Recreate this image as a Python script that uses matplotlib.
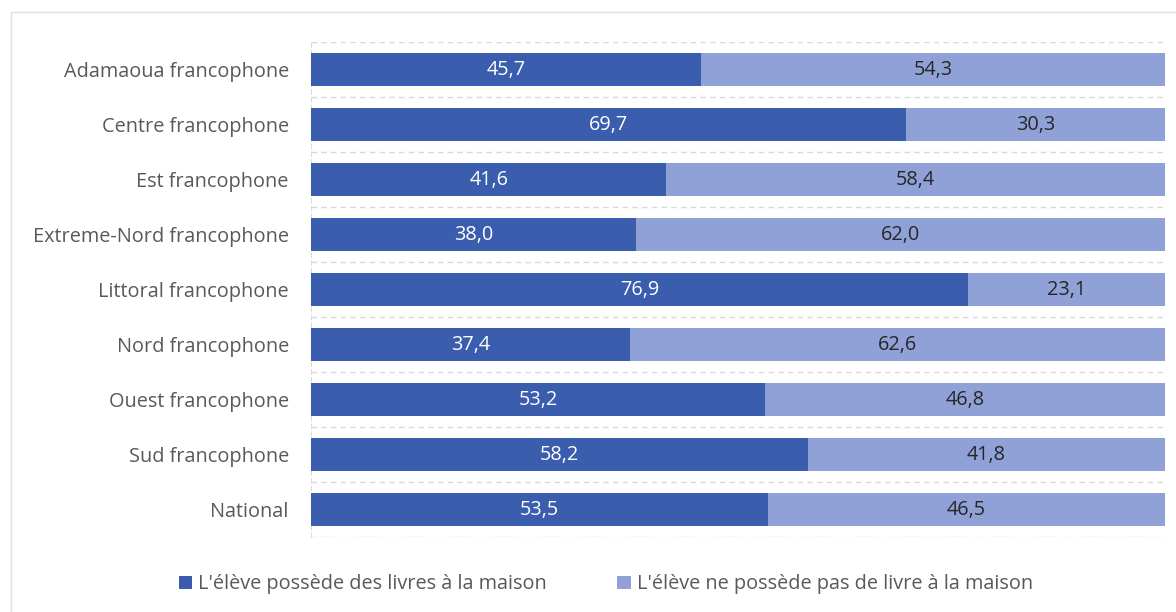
import matplotlib
matplotlib.use('Agg')
import matplotlib.pyplot as plt
import numpy as np
from matplotlib.patches import Rectangle

plt.rcParams['font.family'] = ['Open Sans', 'DejaVu Sans']

regions = ['Adamaoua francophone', 'Centre francophone', 'Est francophone',
           'Extreme-Nord francophone', 'Littoral francophone', 'Nord francophone',
           'Ouest francophone', 'Sud francophone', 'National']
avec_livres = [45.7, 69.7, 41.6, 38.0, 76.9, 37.4, 53.2, 58.2, 53.5]
sans_livres = [54.3, 30.3, 58.4, 62.0, 23.1, 62.6, 46.8, 41.8, 46.5]
legend_labels = ["L'élève possède des livres à la maison",
                 "L'élève ne possède pas de livre à la maison"]

dark = '#3A5DAE'
light = '#8FA1D7'
grey = '#595959'
fs = 14.3

fig = plt.figure(figsize=(11.76, 6.12), dpi=100)
ax = fig.add_axes([0.2645, 0.1225, 0.7261, 0.8085])

y = np.arange(len(regions))
b1 = ax.barh(y, avec_livres, height=0.6, color=dark, label=legend_labels[0], zorder=3)
b2 = ax.barh(y, sans_livres, left=avec_livres, height=0.6, color=light,
             label=legend_labels[1], zorder=3)

for i in range(len(regions)):
    ax.text(avec_livres[i] / 2, y[i], f'{avec_livres[i]:.1f}'.replace('.', ','),
            ha='center', va='center', color='white', fontsize=fs, zorder=4)
    ax.text(avec_livres[i] + sans_livres[i] / 2, y[i],
            f'{sans_livres[i]:.1f}'.replace('.', ','),
            ha='center', va='center', color='#262626', fontsize=fs, zorder=4)

ax.set_xlim(0, 100)
ax.set_ylim(len(regions) - 0.5, -0.5)
ax.set_yticks(y)
ax.set_yticklabels(regions, fontsize=fs, color=grey)
ax.set_xticks([])
ax.set_yticks(np.arange(-0.5, len(regions), 1), minor=True)
ax.tick_params(axis='y', which='both', length=0, pad=16)
ax.grid(axis='y', which='minor', color='#D9D9D9', linestyle=(0, (4, 3)), linewidth=1, zorder=0)
for s in ['top', 'right', 'bottom']:
    ax.spines[s].set_visible(False)
ax.spines['left'].set_color('#D9D9D9')
ax.spines['left'].set_linestyle((0, (4, 3)))

fig.legend(handles=[b1, b2], loc='center', bbox_to_anchor=(0.515, 0.045), ncol=2,
           frameon=False, fontsize=fs, labelcolor=grey, handlelength=0.7,
           handleheight=0.7, handletextpad=0.3, columnspacing=3.5)

fig.patches.append(Rectangle((0.009, -0.01), 1.0, 0.99, transform=fig.transFigure,
                             fill=False, edgecolor='#E0E0E0', linewidth=1))

fig.savefig('out.png', dpi=100)
